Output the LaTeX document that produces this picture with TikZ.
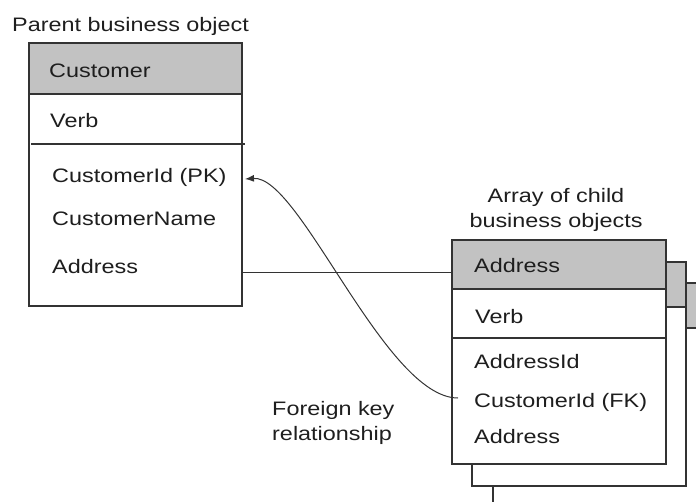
\documentclass[tikz,border=0pt]{standalone}
\usepackage{fontspec}
\setmainfont{Liberation Sans}[FakeStretch=1.2]
\usetikzlibrary{arrows.meta}

\definecolor{headgray}{HTML}{C2C2C2}
\definecolor{linecol}{HTML}{333333}
\definecolor{txtcol}{HTML}{1E1E1E}

\begin{document}
\begin{tikzpicture}[
      x=1pt, y=-1pt,
      box/.style={draw=linecol, line width=1.2pt, fill=white},
      head/.style={draw=linecol, line width=1.2pt, fill=headgray},
      lbl/.style={anchor=base west, inner sep=0pt, text=txtcol,
                  font=\fontsize{19.5}{23}\selectfont},
      link/.style={draw=linecol, line width=1pt},
      ]

      \useasboundingbox (0,0) rectangle (696,501);
      \clip (0,0) rectangle (696,501);

      % parent business object
      \node[lbl] (parenttitle) at (12,31) {Parent business object};
      \draw[box] (29,43) rectangle (242,306);
      \draw[head] (29,43) rectangle (242,94);
      \draw[link, line width=1.2pt] (31,144) -- (245,144);
      \node[lbl] (custhead) at (49,77) {Customer};
      \node[lbl] (custverb) at (50,127) {Verb};
      \node[lbl] (custpk) at (52,182) {CustomerId (PK)};
      \node[lbl] (custname) at (52,225) {CustomerName};
      \node[lbl] (custaddr) at (52,273) {Address};

      % array of child business objects
      \node[lbl, anchor=base] (arraytop) at (556,202) {Array of child};
      \node[lbl, anchor=base] (arraybot) at (556,227) {business objects};

      \draw[box] (493,283) rectangle (707,507);
      \draw[head] (493,283) rectangle (707,328);

      \draw[box] (472,262) rectangle (686,486);
      \draw[head] (472,262) rectangle (686,307);

      \draw[box] (452,240) rectangle (666,464);
      \draw[head] (452,240) rectangle (666,289);
      \draw[link, line width=1.2pt] (452,338) -- (666,338);
      \node[lbl] (addrhead) at (474,272) {Address};
      \node[lbl] (addrverb) at (475,323) {Verb};
      \node[lbl] (addrid) at (474,368) {AddressId};
      \node[lbl] (addrfk) at (474,407) {CustomerId (FK)};
      \node[lbl] (addraddr) at (474,443) {Address};

      % connectors
      \coordinate (parentaddr) at (242,272);
      \coordinate (childaddr) at (452,272);
      \coordinate (fkend) at (458,398);
      \coordinate (pkend) at (245,179);
      \draw[link] (parentaddr) -- (childaddr);
      \draw[link, -{Latex[length=9pt, width=7pt]}] (fkend) .. controls (385,398) and (300,175) .. (pkend);

      \node[lbl] (fklabel) at (272,415) {Foreign key};
      \node[lbl] (fklabelb) at (272,440) {relationship};

    \end{tikzpicture}
\end{document}
